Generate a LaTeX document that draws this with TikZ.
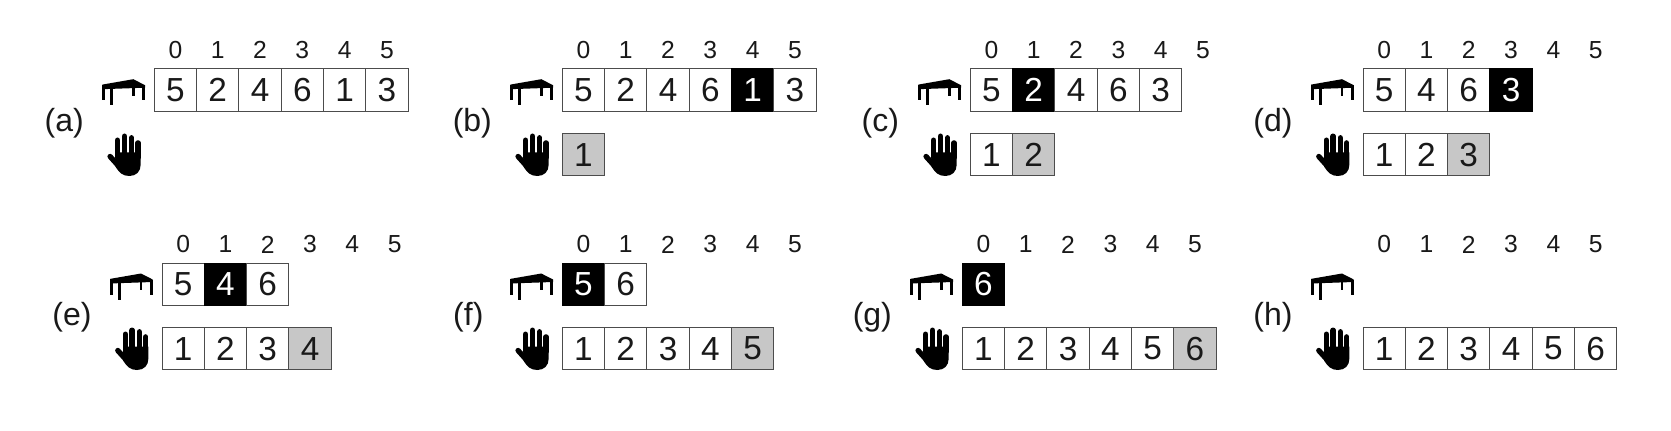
\documentclass[tikz,border=0pt]{standalone}
\usepackage{fontspec}
\setmainfont{Liberation Sans}
\tikzset{
  x=0.75pt,y=-0.75pt,
  cellbox/.style={draw=black!70,line width=0.7pt,minimum size=31.7pt,inner sep=0pt,font=\fontsize{25}{25}\selectfont,text=black!90},
  plain/.style={fill=white},
  picked/.style={fill=black,draw=black,text=white},
  placed/.style={fill=black!22},
  indexlabel/.style={inner sep=0pt,font=\fontsize{18.5}{18.5}\selectfont,text=black!90},
  panellabel/.style={inner sep=0pt,font=\fontsize{24}{24}\selectfont,text=black!90},
  tableicon/.pic={
    \fill[black] (0,5.4) -- (31,0) -- (42.7,6) -- (42.7,8.5) -- (0,10) -- cycle;
    \fill[black] (0,5.4) rectangle (2.7,21);
    \fill[black] (7.6,8) rectangle (10.6,26);
    \fill[black] (29.5,7) rectangle (32.2,16.5);
    \fill[black] (40,6) rectangle (42.7,21);
  },
  handicon/.pic={
    \draw[black,line width=4.2pt,line cap=round] (10.3,6.8) -- (10.3,24);
    \draw[black,line width=4.2pt,line cap=round] (17.2,2.8) -- (17.2,24);
    \draw[black,line width=4.2pt,line cap=round] (24.3,4.4) -- (24.3,24);
    \draw[black,line width=4pt,line cap=round] (30.8,9.4) -- (30.8,24);
    \draw[black,line width=4pt,line cap=round] (2.8,23) -- (10,31);
    \fill[black] (8,19) -- (33.4,19) -- (33.4,31) .. controls (33.4,38) and (29,42.5) .. (22,42.5) .. controls (15,42.5) and (12,39) .. (8,33) -- cycle;
  }
}
% #1 name, #2 left x, #3 top y, #4 cells
\newcommand{\cellrow}[4]{%
  \foreach \d/\s [count=\i from 0] in {#4}
    \node[cellbox,style/.expanded=\s] (#1\i) at ({#2+42.3*\i+21.15},{#3+21.15}) {\d};
}
% #1 label x shift, #2 name, #3 left x, #4 top y of table row, #5 top y of hand row, #6 label y, #7 table cells, #8 hand cells
\newcommand{\panel}[8][0]{%
  \foreach \n [count=\i from 0] in {0,...,5}
    \node[indexlabel] (#2idx\i) at ({#3+42.3*\i+21.15},{#4-18.5}) {\n};
  \node[panellabel] (#2label) at ({#3-90+#1},#6) {(#2)};
  \pic at ({#3-52},{#4+10.5}) {tableicon};
  \pic at ({#3-47},{#5}) {handicon};
  \cellrow{#2t}{#3}{#4}{#7}
  \cellrow{#2h}{#3}{#5}{#8}
}
\begin{document}
\begin{tikzpicture}
\useasboundingbox[fill=white] (0,0) rectangle (1671,431);
\panel{a}{154.3}{68.7}{133.5}{123}{5/plain,2/plain,4/plain,6/plain,1/plain,3/plain}{}
\panel{b}{562.3}{68.7}{133.5}{123}{5/plain,2/plain,4/plain,6/plain,1/picked,3/plain}{1/placed}
\panel{c}{970.3}{68.7}{133.5}{123}{5/plain,2/picked,4/plain,6/plain,3/plain}{1/plain,2/placed}
\panel{d}{1363}{68.7}{133.5}{123}{5/plain,4/plain,6/plain,3/picked}{1/plain,2/plain,3/placed}
\panel{e}{162}{263}{327.5}{317}{5/plain,4/picked,6/plain}{1/plain,2/plain,3/plain,4/placed}
\panel[-4]{f}{562.3}{263}{327.5}{317}{5/picked,6/plain}{1/plain,2/plain,3/plain,4/plain,5/placed}
\panel{g}{962.3}{263}{327.5}{317}{6/picked}{1/plain,2/plain,3/plain,4/plain,5/plain,6/placed}
\panel{h}{1363}{263}{327.5}{317}{}{1/plain,2/plain,3/plain,4/plain,5/plain,6/plain}
\end{tikzpicture}
\end{document}
